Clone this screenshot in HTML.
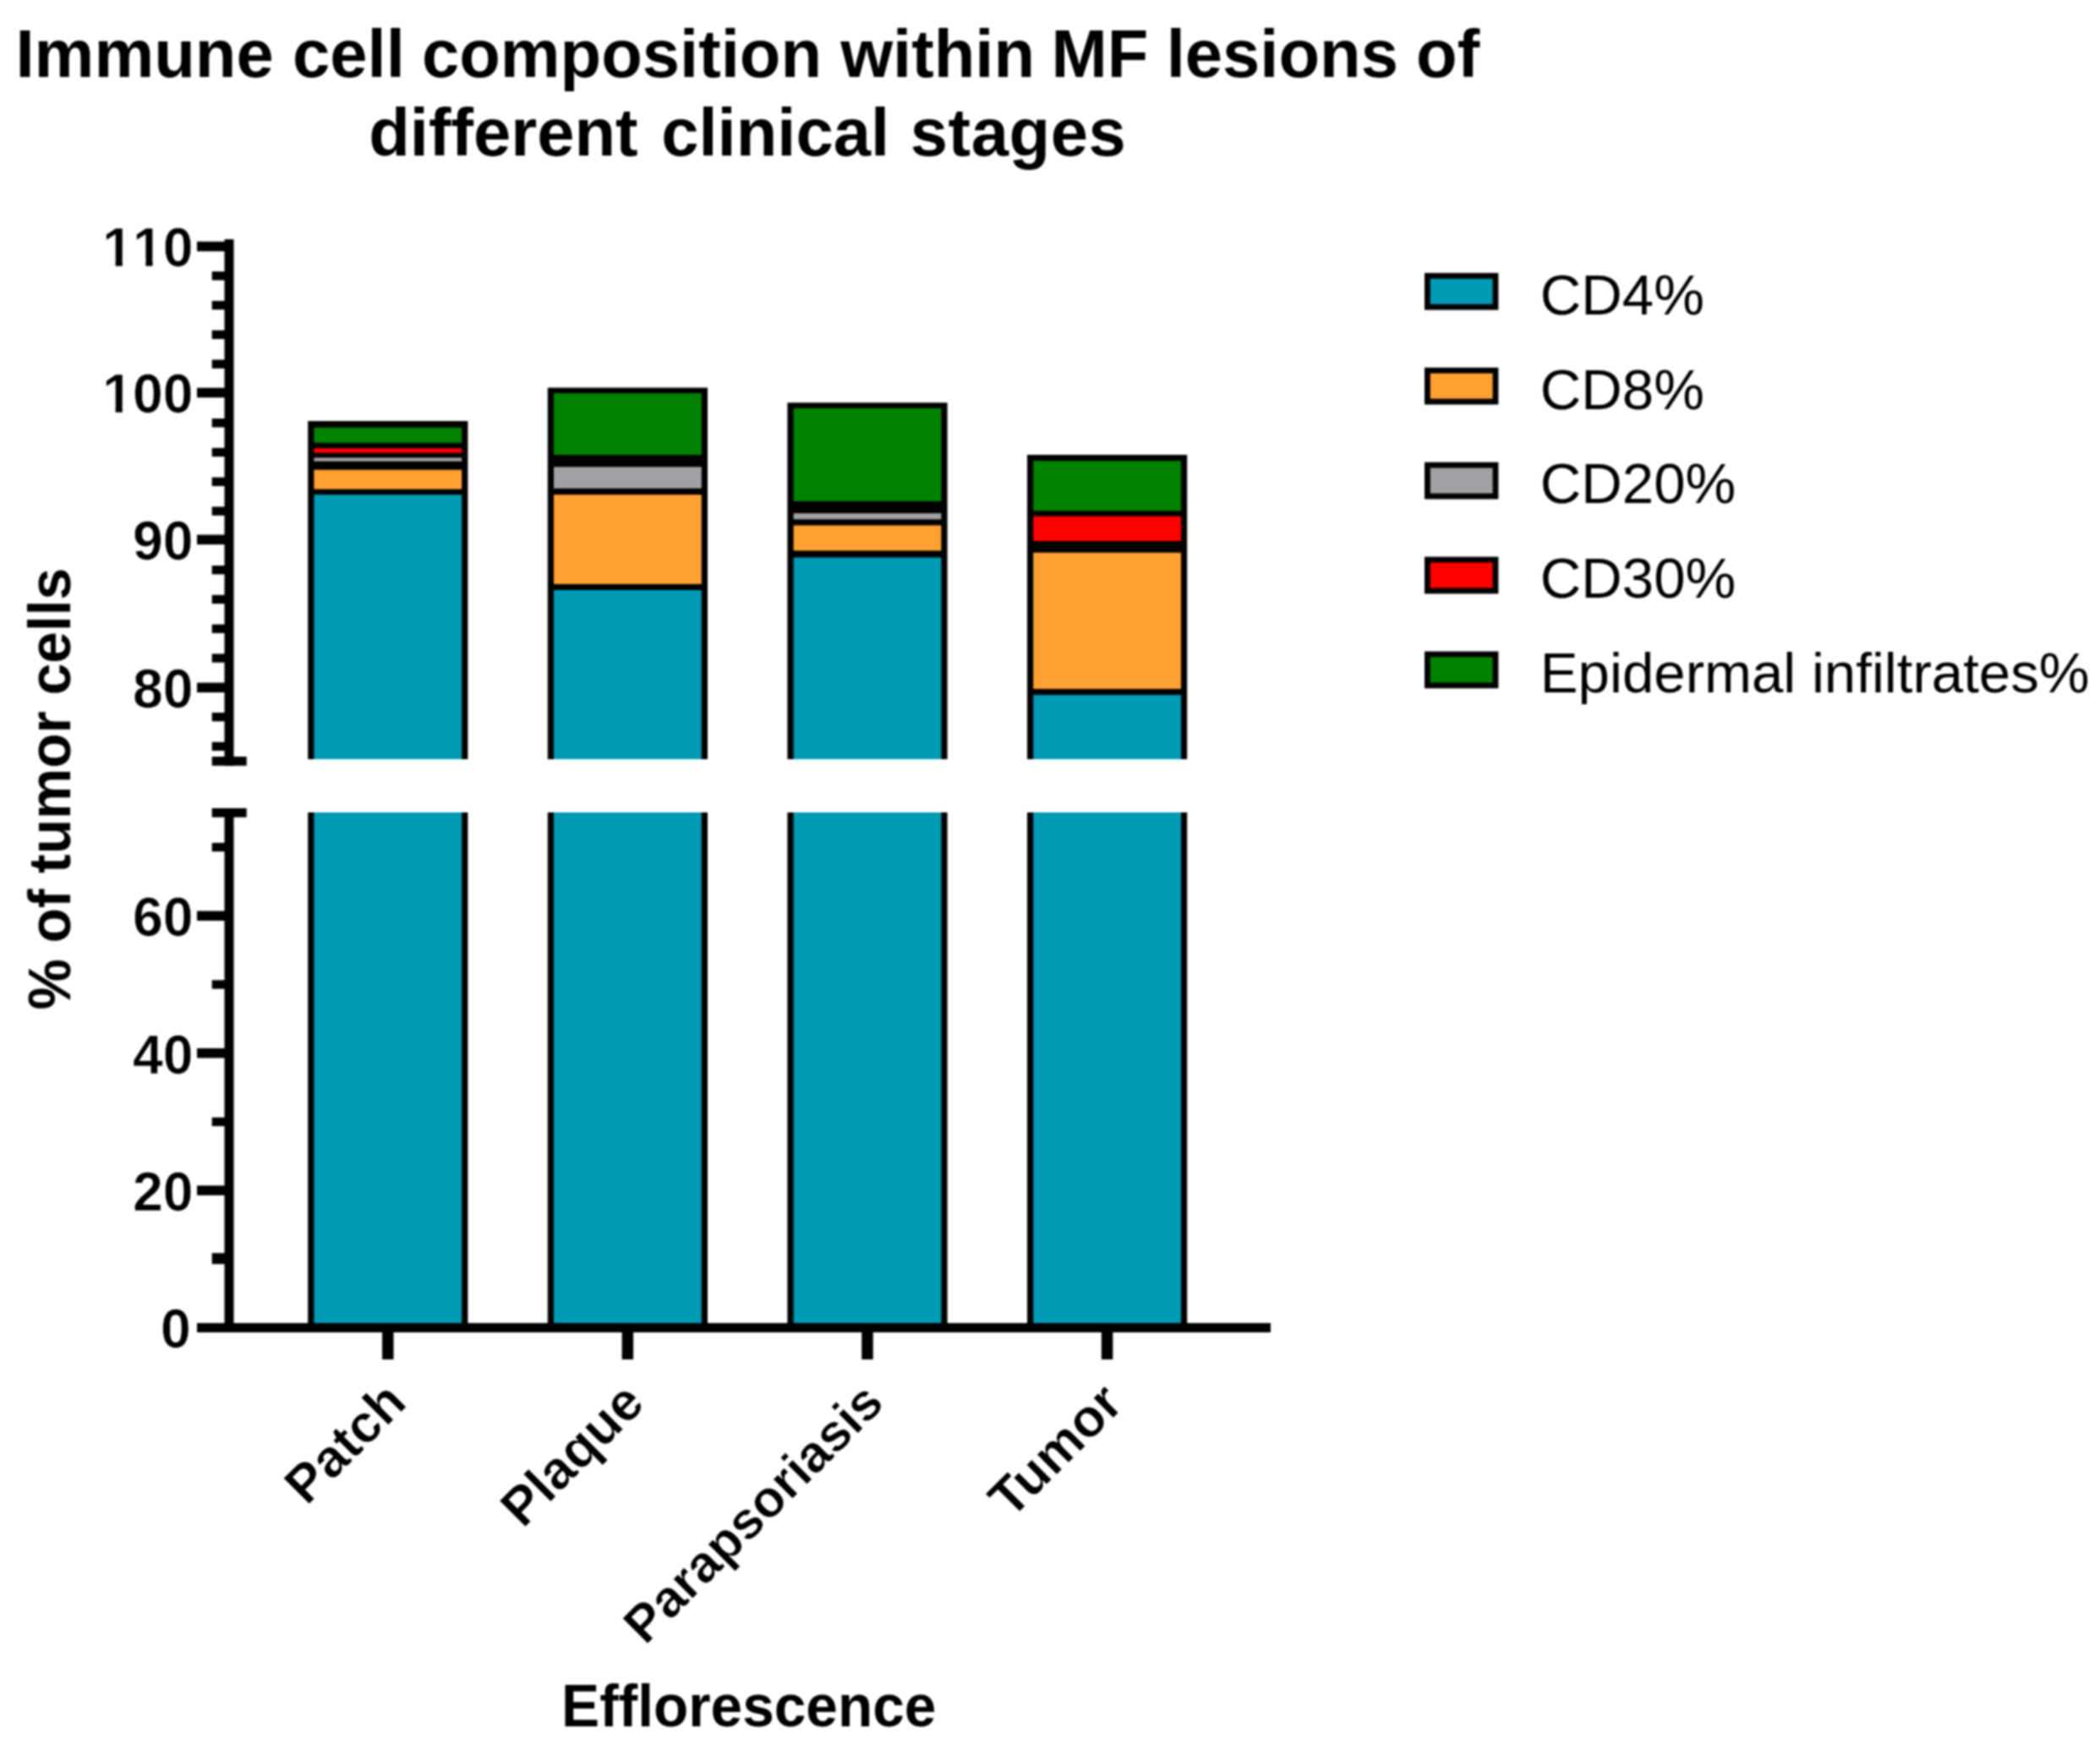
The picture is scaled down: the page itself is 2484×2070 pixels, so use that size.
<!DOCTYPE html>
<html><head><meta charset="utf-8"><title>Immune cell composition within MF lesions</title>
<style>
html,body{margin:0;padding:0;background:#fff;}
body{width:2484px;height:2070px;overflow:hidden;}
svg{display:block;}
svg text{font-family:"Liberation Sans",Arial,Helvetica,sans-serif;fill:#000;}
</style></head><body>
<svg width="2484" height="2070" viewBox="0 0 2484 2070">
<defs><filter id="soft" x="0" y="0" width="2484" height="2070" filterUnits="userSpaceOnUse" color-interpolation-filters="sRGB"><feGaussianBlur stdDeviation="0.8"/></filter></defs>
<rect x="0" y="0" width="2484" height="2070" fill="#fff"/>
<g filter="url(#soft)">
<rect x="0" y="0" width="2484" height="2070" fill="#fff"/>
<text x="18.5" y="91.2" font-size="79.6" font-weight="bold">Immune <tspan dx="0.3">cell </tspan><tspan dx="-2">composition </tspan><tspan dx="0">within </tspan><tspan dx="-2.7">MF </tspan><tspan dx="-0.9">lesions </tspan><tspan dx="-1">of</tspan></text>
<text x="436.2" y="183.6" font-size="79.6" font-weight="bold">different <tspan dx="5.5">clinical </tspan><tspan dx="2.5" letter-spacing="0.6">stages</tspan></text>
<rect x="364.20" y="498.00" width="189.20" height="400.00" fill="#000"/>
<rect x="371.40" y="505.70" width="174.80" height="18.00" fill="#008200"/>
<rect x="371.40" y="530.30" width="174.80" height="5.40" fill="#FF0000"/>
<rect x="371.40" y="541.40" width="174.80" height="4.30" fill="#A1A1A5"/>
<rect x="371.40" y="555.70" width="174.80" height="22.90" fill="#FFA132"/>
<rect x="371.40" y="585.10" width="174.80" height="312.90" fill="#009AB5"/>
<rect x="364.20" y="961.00" width="189.20" height="606.00" fill="#000"/>
<rect x="371.40" y="961.00" width="174.80" height="606.00" fill="#009AB5"/>
<rect x="647.80" y="458.60" width="189.20" height="439.40" fill="#000"/>
<rect x="655.00" y="465.10" width="174.80" height="72.90" fill="#008200"/>
<rect x="655.00" y="552.30" width="174.80" height="25.40" fill="#A1A1A5"/>
<rect x="655.00" y="585.10" width="174.80" height="105.80" fill="#FFA132"/>
<rect x="655.00" y="698.00" width="174.80" height="200.00" fill="#009AB5"/>
<rect x="647.80" y="961.00" width="189.20" height="606.00" fill="#000"/>
<rect x="655.00" y="961.00" width="174.80" height="606.00" fill="#009AB5"/>
<rect x="931.40" y="476.30" width="189.20" height="421.70" fill="#000"/>
<rect x="938.60" y="482.90" width="174.80" height="110.00" fill="#008200"/>
<rect x="938.60" y="607.10" width="174.80" height="7.20" fill="#A1A1A5"/>
<rect x="938.60" y="621.40" width="174.80" height="30.00" fill="#FFA132"/>
<rect x="938.60" y="659.40" width="174.80" height="238.60" fill="#009AB5"/>
<rect x="931.40" y="961.00" width="189.20" height="606.00" fill="#000"/>
<rect x="938.60" y="961.00" width="174.80" height="606.00" fill="#009AB5"/>
<rect x="1215.00" y="538.00" width="189.20" height="360.00" fill="#000"/>
<rect x="1222.20" y="545.10" width="174.80" height="59.20" fill="#008200"/>
<rect x="1222.20" y="610.60" width="174.80" height="29.40" fill="#FF0000"/>
<rect x="1222.20" y="653.70" width="174.80" height="161.20" fill="#FFA132"/>
<rect x="1222.20" y="822.00" width="174.80" height="76.00" fill="#009AB5"/>
<rect x="1215.00" y="961.00" width="189.20" height="606.00" fill="#000"/>
<rect x="1222.20" y="961.00" width="174.80" height="606.00" fill="#009AB5"/>
<rect x="265.50" y="283.00" width="11.00" height="622.70" fill="#000"/>
<rect x="265.50" y="956.00" width="11.00" height="620.00" fill="#000"/>
<rect x="250.70" y="895.00" width="41.00" height="10.70" fill="#000"/>
<rect x="250.70" y="956.00" width="41.00" height="10.70" fill="#000"/>
<rect x="233.00" y="1565.00" width="1270.00" height="11.00" fill="#000"/>
<rect x="233.00" y="285.75" width="33.50" height="11.50" fill="#000"/>
<text x="228.60" y="315.40" font-size="64.3" font-weight="bold" text-anchor="end" stroke="#fff" stroke-width="0.7" style="font-kerning:none">110</text>
<rect x="123.88" y="306.40" width="12.71" height="11.00" fill="#fff"/>
<rect x="144.80" y="306.40" width="10.93" height="11.00" fill="#fff"/>
<rect x="159.64" y="306.40" width="12.71" height="11.00" fill="#fff"/>
<rect x="180.56" y="306.40" width="10.93" height="11.00" fill="#fff"/>
<rect x="233.00" y="458.75" width="33.50" height="11.50" fill="#000"/>
<text x="228.60" y="488.40" font-size="64.3" font-weight="bold" text-anchor="end" stroke="#fff" stroke-width="0.7" style="font-kerning:none">100</text>
<rect x="123.88" y="479.40" width="12.71" height="11.00" fill="#fff"/>
<rect x="144.80" y="479.40" width="10.93" height="11.00" fill="#fff"/>
<rect x="233.00" y="632.55" width="33.50" height="11.50" fill="#000"/>
<text x="228.60" y="662.20" font-size="64.3" font-weight="bold" text-anchor="end" stroke="#fff" stroke-width="0.7" style="font-kerning:none">90</text>
<rect x="233.00" y="807.55" width="33.50" height="11.50" fill="#000"/>
<text x="228.60" y="837.20" font-size="64.3" font-weight="bold" text-anchor="end" stroke="#fff" stroke-width="0.7" style="font-kerning:none">80</text>
<rect x="250.70" y="877.72" width="15.80" height="10.30" fill="#000"/>
<rect x="250.70" y="842.94" width="15.80" height="10.30" fill="#000"/>
<rect x="250.70" y="773.36" width="15.80" height="10.30" fill="#000"/>
<rect x="250.70" y="738.58" width="15.80" height="10.30" fill="#000"/>
<rect x="250.70" y="703.79" width="15.80" height="10.30" fill="#000"/>
<rect x="250.70" y="669.00" width="15.80" height="10.30" fill="#000"/>
<rect x="250.70" y="599.43" width="15.80" height="10.30" fill="#000"/>
<rect x="250.70" y="564.64" width="15.80" height="10.30" fill="#000"/>
<rect x="250.70" y="529.86" width="15.80" height="10.30" fill="#000"/>
<rect x="250.70" y="495.07" width="15.80" height="10.30" fill="#000"/>
<rect x="250.70" y="425.50" width="15.80" height="10.30" fill="#000"/>
<rect x="250.70" y="390.71" width="15.80" height="10.30" fill="#000"/>
<rect x="250.70" y="355.92" width="15.80" height="10.30" fill="#000"/>
<rect x="250.70" y="321.14" width="15.80" height="10.30" fill="#000"/>
<rect x="233.00" y="1077.55" width="33.50" height="11.50" fill="#000"/>
<text x="228.60" y="1107.20" font-size="64.3" font-weight="bold" text-anchor="end" stroke="#fff" stroke-width="0.7" style="font-kerning:none">60</text>
<rect x="233.00" y="1239.95" width="33.50" height="11.50" fill="#000"/>
<text x="228.60" y="1269.60" font-size="64.3" font-weight="bold" text-anchor="end" stroke="#fff" stroke-width="0.7" style="font-kerning:none">40</text>
<rect x="233.00" y="1402.35" width="33.50" height="11.50" fill="#000"/>
<text x="228.60" y="1432.00" font-size="64.3" font-weight="bold" text-anchor="end" stroke="#fff" stroke-width="0.7" style="font-kerning:none">20</text>
<text x="225.80" y="1594.40" font-size="64.3" font-weight="bold" text-anchor="end" stroke="#fff" stroke-width="0.7" style="font-kerning:none">0</text>
<rect x="250.70" y="996.95" width="15.80" height="10.30" fill="#000"/>
<rect x="250.70" y="1159.35" width="15.80" height="10.30" fill="#000"/>
<rect x="250.70" y="1321.75" width="15.80" height="10.30" fill="#000"/>
<rect x="250.70" y="1482.20" width="15.80" height="13.00" fill="#000"/>
<rect x="452.05" y="1575.00" width="13.50" height="33.00" fill="#000"/>
<text transform="translate(483.30,1661.50) rotate(-45)" font-size="62.6" font-weight="bold" text-anchor="end" stroke="#fff" stroke-width="0.6">Patch</text>
<rect x="735.65" y="1575.00" width="13.50" height="33.00" fill="#000"/>
<text transform="translate(764.90,1662.50) rotate(-45)" font-size="63.2" font-weight="bold" text-anchor="end" stroke="#fff" stroke-width="0.6">Plaque</text>
<rect x="1019.25" y="1575.00" width="13.50" height="33.00" fill="#000"/>
<text transform="translate(1048.00,1662.20) rotate(-45)" font-size="61.4" font-weight="bold" text-anchor="end" stroke="#fff" stroke-width="0.6">Parapsoriasis</text>
<rect x="1302.85" y="1575.00" width="13.50" height="33.00" fill="#000"/>
<text transform="translate(1331.10,1663.00) rotate(-45)" font-size="63.0" font-weight="bold" text-anchor="end" stroke="#fff" stroke-width="0.6">Tumor</text>
<text transform="translate(885.75,2042.3) scale(1,1.04)" font-size="67.6" font-weight="bold" text-anchor="middle">Efflorescence</text>
<text transform="translate(83.3,933.2) rotate(-90) scale(1,1.04)" font-size="67.7" font-weight="bold" text-anchor="middle">% of tumor cells</text>
<rect x="1685.00" y="322.90" width="87.40" height="43.70" fill="#000"/>
<rect x="1691.80" y="329.70" width="73.80" height="30.10" fill="#009AB5"/>
<text x="1821.80" y="371.60" font-size="67.2" font-weight="normal" text-anchor="start" >CD4%</text>
<rect x="1685.00" y="434.80" width="87.40" height="43.70" fill="#000"/>
<rect x="1691.80" y="441.60" width="73.80" height="30.10" fill="#FFA132"/>
<text x="1821.80" y="483.50" font-size="67.2" font-weight="normal" text-anchor="start" >CD8%</text>
<rect x="1685.00" y="546.70" width="87.40" height="43.70" fill="#000"/>
<rect x="1691.80" y="553.50" width="73.80" height="30.10" fill="#A1A1A5"/>
<text x="1821.80" y="595.40" font-size="67.2" font-weight="normal" text-anchor="start" >CD20%</text>
<rect x="1685.00" y="658.60" width="87.40" height="43.70" fill="#000"/>
<rect x="1691.80" y="665.40" width="73.80" height="30.10" fill="#FF0000"/>
<text x="1821.80" y="707.30" font-size="67.2" font-weight="normal" text-anchor="start" >CD30%</text>
<rect x="1685.00" y="770.50" width="87.40" height="43.70" fill="#000"/>
<rect x="1691.80" y="777.30" width="73.80" height="30.10" fill="#008200"/>
<text x="1821.80" y="819.20" font-size="67.2" font-weight="normal" text-anchor="start" >Epidermal infiltrates%</text>
</g>
</svg>
</body></html>
